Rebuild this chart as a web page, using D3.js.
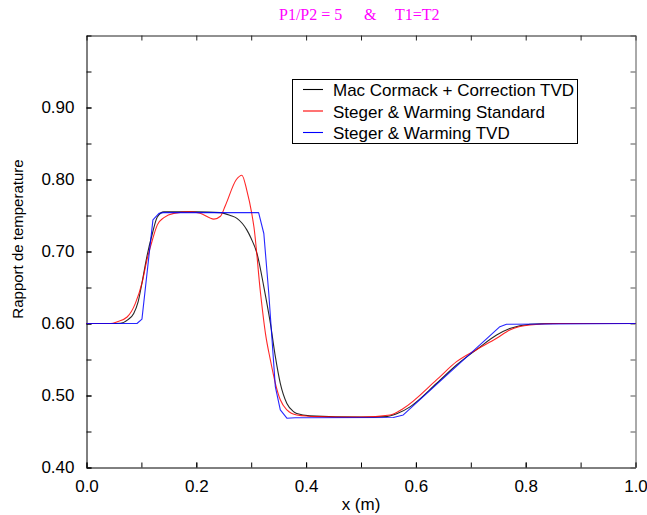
<!DOCTYPE html>
<html>
<head>
<meta charset="utf-8">
<script src="https://cdn.jsdelivr.net/npm/d3@7"></script>
<style>
  body { margin: 0; background: #fff; }
  svg { display: block; }
  text { font-family: "Liberation Sans", Arial, sans-serif; }
</style>
</head>
<body>
<svg id="chart" width="647" height="515"></svg>
<script>
// Axis ticks
const xMajorTicks = [0, 0.2, 0.4, 0.6, 0.8, 1.0];
const xMinorTicks = [0, 0.1, 0.2, 0.3, 0.4, 0.5, 0.6, 0.7, 0.8, 0.9, 1.0];
const yLabelTicks = [0.4, 0.5, 0.6, 0.7, 0.8, 0.9];
const yMinorTicks = [0.4, 0.45, 0.5, 0.55, 0.6, 0.65, 0.7, 0.75, 0.8, 0.85, 0.9, 0.95, 1.0];

// Mac Cormack + Correction TVD
const macX = [0, 0.04, 0.062, 0.075, 0.086, 0.094, 0.101, 0.110, 0.120, 0.129, 0.141, 0.16, 0.2, 0.244,
  0.262, 0.274, 0.292, 0.300, 0.311, 0.323, 0.335, 0.344, 0.353, 0.365, 0.377, 0.383, 0.407, 0.5, 0.547,
  0.565, 0.59, 0.638, 0.674, 0.711, 0.747, 0.771, 0.808, 0.85, 1.0];
const macT = [0.600, 0.600, 0.6003, 0.605, 0.614, 0.630, 0.656, 0.693, 0.725, 0.748, 0.755, 0.755, 0.755, 0.754,
  0.750, 0.746, 0.730, 0.718, 0.696, 0.651, 0.600, 0.554, 0.517, 0.489, 0.4777, 0.475, 0.4717, 0.470, 0.4707,
  0.4745, 0.4846, 0.517, 0.5424, 0.564, 0.584, 0.593, 0.599, 0.600, 0.600];

// Steger & Warming Standard
const swsX = [0, 0.044, 0.056, 0.074, 0.089, 0.101, 0.110, 0.120, 0.129, 0.141, 0.159, 0.189, 0.207, 0.232,
  0.244, 0.253, 0.273, 0.283, 0.292, 0.301, 0.305, 0.317, 0.326, 0.335, 0.344, 0.353, 0.365, 0.383, 0.42,
  0.5, 0.553, 0.577, 0.638, 0.674, 0.711, 0.747, 0.771, 0.808, 0.862, 1.0];
const swsT = [0.600, 0.600, 0.6025, 0.609, 0.628, 0.656, 0.688, 0.716, 0.737, 0.747, 0.753, 0.755, 0.753, 0.745,
  0.749, 0.764, 0.800, 0.806, 0.785, 0.753, 0.734, 0.642, 0.586, 0.549, 0.517, 0.494, 0.480, 0.473, 0.4707,
  0.470, 0.473, 0.482, 0.522, 0.547, 0.564, 0.5795, 0.591, 0.598, 0.600, 0.600];

// Steger & Warming TVD
const swtX = [0, 0.092, 0.101, 0.121, 0.132, 0.14, 0.3135, 0.323, 0.332, 0.344, 0.353, 0.365, 0.38, 0.559,
  0.577, 0.753, 0.765, 1.0];
const swtT = [0.600, 0.600, 0.606, 0.744, 0.753, 0.754, 0.754, 0.725, 0.642, 0.512, 0.480, 0.4685, 0.469, 0.4694,
  0.473, 0.5956, 0.599, 0.600];

const seriesNames = ["Mac Cormack + Correction TVD", "Steger & Warming Standard", "Steger & Warming TVD"];
const seriesColors = ["#000000", "#ff0000", "#0000ff"];

const svg = d3.select("#chart");
const x = d3.scaleLinear().domain([0, 1]).range([86.5, 635.5]);
const y = d3.scaleLinear().domain([0.4, 1.0]).range([467.5, 35.5]);

// Title
const title = svg.append("g")
  .attr("fill", "#ff00ff")
  .style("font-size", "16px");
const serif = "'Liberation Serif', 'Times New Roman', serif";
title.append("text").attr("x", 279).attr("y", 20).style("font-family", serif).text("P1/P2 = 5");
title.append("text").attr("x", 364).attr("y", 20).style("font-family", serif).text("&");
title.append("text").attr("x", 395).attr("y", 20).style("font-family", serif).text("T1=T2");

function styleAxis(g, color) {
  g.select(".domain").attr("stroke", color);
  g.selectAll(".tick line").attr("stroke", color);
  g.selectAll(".tick text").attr("fill", "#000").style("font-size", "17px")
    .style("font-family", "'Liberation Sans', Arial, sans-serif");
}

// Bottom axis: labelled majors, minor ticks every 0.1
svg.append("g").attr("transform", "translate(0,467.5)")
  .call(d3.axisBottom(x).tickValues(xMinorTicks).tickSize(-5).tickSizeOuter(0).tickFormat(""))
  .call(g => styleAxis(g, "#000"));
svg.append("g").attr("transform", "translate(0,467.5)")
  .call(d3.axisBottom(x).tickValues(xMajorTicks).tickSize(-5).tickSizeOuter(0)
    .tickPadding(12).tickFormat(d3.format(".1f")))
  .call(g => { styleAxis(g, "#000"); g.select(".domain").remove(); });

// Top axis (mirrored ticks)
svg.append("g").attr("transform", "translate(0,35.5)")
  .call(d3.axisTop(x).tickValues(xMinorTicks).tickSize(-5).tickSizeOuter(0).tickFormat(""))
  .call(g => styleAxis(g, "#222"));

// Left axis
svg.append("g").attr("transform", "translate(86.5,0)")
  .call(d3.axisLeft(y).tickValues(yMinorTicks).tickSize(-5).tickSizeOuter(0).tickFormat(""))
  .call(g => styleAxis(g, "#000"));
svg.append("g").attr("transform", "translate(86.5,0)")
  .call(d3.axisLeft(y).tickValues(yLabelTicks).tickSize(-5).tickSizeOuter(0)
    .tickPadding(12).tickFormat(d3.format(".2f")))
  .call(g => { styleAxis(g, "#000"); g.select(".domain").remove(); });

// Right axis (mirrored ticks)
svg.append("g").attr("transform", "translate(635.5,0)")
  .call(d3.axisRight(y).tickValues(yMinorTicks).tickSize(-5).tickSizeOuter(0).tickFormat(""))
  .call(g => styleAxis(g, "#555"));

// Axis titles
svg.append("text")
  .attr("x", 361).attr("y", 510)
  .attr("text-anchor", "middle")
  .style("font-size", "17px")
  .text("x (m)");
svg.append("text")
  .attr("transform", "translate(23,239) rotate(-90)")
  .attr("text-anchor", "middle")
  .style("font-size", "15px")
  .text("Rapport de temperature");

// Curves
const line = d3.line().x(d => x(d[0])).y(d => y(d[1]));
const smooth = d3.line().x(d => x(d[0])).y(d => y(d[1])).curve(d3.curveMonotoneX);
const series = [
  { pts: d3.zip(macX, macT), gen: smooth },
  { pts: d3.zip(swsX, swsT), gen: smooth },
  { pts: d3.zip(swtX, swtT), gen: line }
];
const plot = svg.append("g");
series.forEach((s, i) => {
  plot.append("path")
    .attr("d", s.gen(s.pts))
    .attr("fill", "none")
    .attr("stroke", seriesColors[i])
    .attr("stroke-width", 1.1)
    .attr("stroke-opacity", 0.85)
    .attr("stroke-linejoin", "round");
});

// Legend
const legend = svg.append("g");
legend.append("rect")
  .attr("x", 292.5).attr("y", 79.5).attr("width", 285).attr("height", 64)
  .attr("fill", "#fff").attr("stroke", "#000").attr("stroke-width", 1);
seriesNames.forEach((name, i) => {
  const ly = 89.5 + i * 21.5;
  legend.append("line")
    .attr("x1", 303).attr("x2", 323).attr("y1", ly).attr("y2", ly)
    .attr("stroke", seriesColors[i]).attr("stroke-width", 1.1);
  legend.append("text")
    .attr("x", 333).attr("y", ly + 6.5)
    .style("font-size", "17px")
    .text(name);
});
</script>
</body>
</html>
